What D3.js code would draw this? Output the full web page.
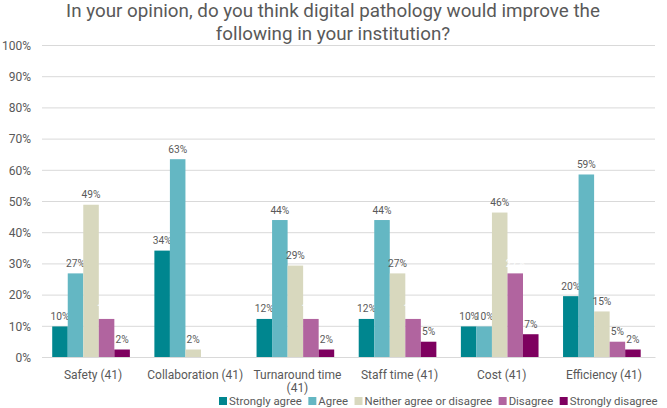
<!DOCTYPE html>
<html><head><meta charset="utf-8">
<script src="https://cdn.jsdelivr.net/npm/d3@7"></script>
<style>body{margin:0;background:#fff}svg{display:block}</style>
</head><body>
<svg id="c" width="667" height="408"></svg>
<script>
const categories = ["Safety (41)", "Collaboration (41)", "Turnaround time (41)", "Staff time (41)", "Cost (41)", "Efficiency (41)"];
const seriesNames = ["Strongly agree", "Agree", "Neither agree or disagree", "Disagree", "Strongly disagree"];
const stronglyAgree = [9.8, 34.1, 12.2, 12.2, 9.8, 19.5];
const agree = [26.8, 63.4, 43.9, 43.9, 9.8, 58.5];
const neither = [48.8, 2.4, 29.3, 26.8, 46.3, 14.6];
const disagree = [12.2, 0, 12.2, 12.2, 26.8, 4.9];
const stronglyDisagree = [2.4, 0, 2.4, 4.9, 7.3, 2.4];
const yTicks = [0, 10, 20, 30, 40, 50, 60, 70, 80, 90, 100];
const colors = ["#00868f", "#64b7c3", "#d8d8be", "#b1649f", "#7e005f"];
const series = [stronglyAgree, agree, neither, disagree, stronglyDisagree];

const svg = d3.select("#c");
const font = "Roboto, 'Open Sans', sans-serif";
const L = 42, R = 655, T = 45, B = 357;

const y = d3.scaleLinear().domain([0, 100]).range([B, T]);
const x0 = d3.scaleBand().domain(categories).range([L, R]);
const bw = x0.bandwidth();
const x1 = d3.scaleBand().domain(seriesNames).range([bw * 0.1, bw * 0.86]);

// title
const title = svg.append("text").attr("text-anchor", "middle").attr("fill", "#595959")
  .style("font-family", font).style("font-size", "18.8px");
title.append("tspan").attr("x", 333).attr("y", 16.5).text("In your opinion, do you think digital pathology would improve the");
title.append("tspan").attr("x", 333).attr("y", 39.5).text("following in your institution?");

// grid
const yAxis = d3.axisLeft(y).tickValues(yTicks).tickSize(-(R - L)).tickFormat(d => d + "%");
const ga = svg.append("g").attr("transform", `translate(${L},0)`).call(yAxis);
ga.select(".domain").remove();
ga.selectAll("line").attr("stroke", "#d9d9d9");
ga.selectAll("text").attr("fill", "#595959").attr("x", -11).attr("dy", "0.35em")
  .style("font-family", font).style("font-size", "12px");

// bars
seriesNames.forEach((s, si) => {
  const g = svg.append("g");
  categories.forEach((c, ci) => {
    const v = series[si][ci];
    if (v <= 0) return;
    const bx = x0(c) + x1(s);
    g.append("rect").attr("x", bx).attr("y", y(v)).attr("width", x1.bandwidth()).attr("height", y(0) - y(v))
      .attr("fill", colors[si]);
    const hidden = si === 3 && ci < 5;
    g.append("text").attr("x", bx + x1.bandwidth() / 2).attr("y", y(v) - 6.5)
      .attr("text-anchor", "middle").attr("fill", hidden ? "#ffffff" : "#595959")
      .style("font-family", font).style("font-size", "10.2px")
      .text(Math.round(v) + "%");
  });
});

// x labels
const xAxis = d3.axisBottom(x0).tickSize(0);
const gx = svg.append("g").attr("transform", `translate(0,${B})`).call(xAxis);
gx.select(".domain").attr("stroke", "#d9d9d9");
gx.selectAll("text").attr("fill", "#595959").style("font-family", font).style("font-size", "12px")
  .attr("y", 13)
  .each(function(d) {
    const t = d3.select(this);
    if (d.startsWith("Turnaround")) {
      t.text(null);
      t.append("tspan").attr("x", 0).attr("dy", "0.71em").text("Turnaround time");
      t.append("tspan").attr("x", 0).attr("dy", "1.12em").text("(41)");
    }
  });

// legend
const lg = svg.append("g").attr("transform", "translate(219,401)");
let lx = 0;
seriesNames.forEach((s, i) => {
  const item = lg.append("g").attr("transform", `translate(${lx},0)`);
  item.append("rect").attr("x", 0).attr("y", -4).attr("width", 8).attr("height", 8).attr("fill", colors[i]);
  const t = item.append("text").attr("x", 10).attr("y", 0).attr("dy", "0.35em").attr("fill", "#595959")
    .style("font-family", font).style("font-size", "11.4px").text(s);
  lx += 10 + t.node().getComputedTextLength() + 6.5;
});
</script>
</body></html>
